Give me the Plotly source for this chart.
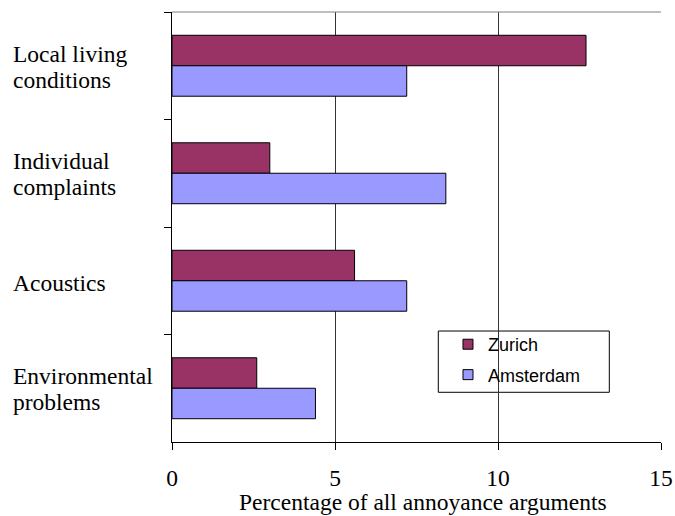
import plotly.graph_objects as go

# Share of annoyance arguments by topic, per city (percent)
categories = ["Local living conditions", "Individual complaints", "Acoustics", "Environmental problems"]
label_lines = [["Local living", "conditions"], ["Individual", "complaints"], ["Acoustics"], ["Environmental", "problems"]]
zurich = [12.7, 3.0, 5.6, 2.6]
amsterdam = [7.2, 8.4, 7.2, 4.4]
x_ticks = [0, 5, 10, 15]
x_title = "Percentage of all annoyance arguments"

serif = "Liberation Serif, Times New Roman, serif"
sans = "Liberation Sans, Arial, sans-serif"
ZURICH_COLOR = "#993366"
AMSTERDAM_COLOR = "#9999FF"

fig = go.Figure()
fig.add_trace(go.Bar(
    name="Zurich", y=categories, x=zurich, orientation="h", showlegend=False,
    marker=dict(color=ZURICH_COLOR, line=dict(color="black", width=1)),
))
fig.add_trace(go.Bar(
    name="Amsterdam", y=categories, x=amsterdam, orientation="h", showlegend=False,
    marker=dict(color=AMSTERDAM_COLOR, line=dict(color="black", width=1)),
))

# Legend entries with small square swatches
for name, color in [("Zurich", ZURICH_COLOR), ("Amsterdam", AMSTERDAM_COLOR)]:
    fig.add_trace(go.Scatter(
        x=[None], y=[None], mode="markers", name=name, legendgroup=name,
        marker=dict(symbol="square", size=10, color=color, line=dict(color="black", width=1)),
    ))

# Left-aligned category labels, one annotation per line
for cat, lines in zip(categories, label_lines):
    shifts = [-2] if len(lines) == 1 else [12, -14]
    for line, dy in zip(lines, shifts):
        fig.add_annotation(
            x=-0.3292, xref="paper", y=cat, yref="y", yshift=dy, text=line,
            showarrow=False, xanchor="left", align="left",
            font=dict(family=serif, size=23.5, color="black"),
        )

# x-axis title, set slightly right of the plot centre
fig.add_annotation(
    x=0.514, xref="paper", y=0, yref="paper", yshift=-60, yanchor="middle",
    text=x_title, showarrow=False,
    font=dict(family=serif, size=23.5, color="black"),
)

# Grey frame on top side
fig.add_shape(type="line", xref="paper", yref="paper", x0=0, x1=1, y0=1, y1=1,
              line=dict(color="#808080", width=1))
# Legend frame
fig.add_shape(type="rect", xref="paper", yref="paper",
              x0=0.5446, x1=0.8943, y0=0.1156, y1=0.2581,
              line=dict(color="black", width=1), fillcolor="white", layer="below")

fig.update_layout(
    width=675, height=516,
    margin=dict(l=172, r=14, t=12, b=74, autoexpand=False),
    paper_bgcolor="white", plot_bgcolor="white",
    barmode="group", bargap=0.433, bargroupgap=0,
    showlegend=True,
    legend=dict(
        x=0.5644, y=0.2697, xanchor="left", yanchor="top",
        borderwidth=0, bgcolor="rgba(0,0,0,0)",
        font=dict(family=sans, size=18, color="black"),
        traceorder="grouped", tracegroupgap=4,
    ),
    xaxis=dict(
        range=[0, 15], tickvals=x_ticks, ticks="outside", ticklen=7,
        tickcolor="black", showline=True, linecolor="black", linewidth=1,
        showgrid=True, gridcolor="#333333", gridwidth=1, zeroline=False,
        tickfont=dict(family=serif, size=23.5, color="black"),
        ticklabelstandoff=8, automargin=False,
    ),
    yaxis=dict(
        type="category", categoryorder="array", categoryarray=categories,
        range=[3.5, -0.5], showticklabels=False, automargin=False,
        ticks="outside", ticklen=7, tickcolor="black", tickson="boundaries",
        showline=True, linecolor="black", linewidth=1, showgrid=False,
    ),
)

fig.write_html("out.html")
